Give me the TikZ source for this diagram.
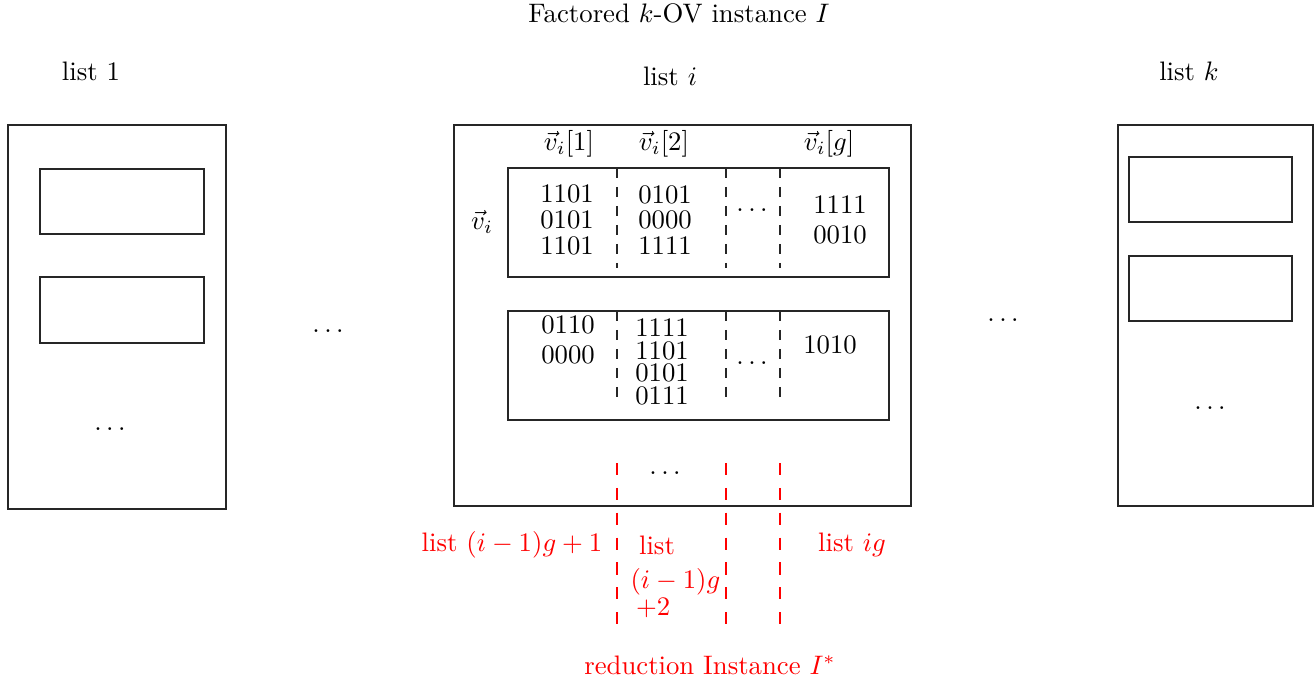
\documentclass[tikz,border=0pt]{standalone}
\begin{document}
\begin{tikzpicture}[x=0.374pt,y=-0.374pt,
  box/.style={draw=black!85, line width=0.4pt},
  lbl/.style={anchor=base, inner sep=0pt},
  col/.style={align=center, inner sep=0pt},
  sepline/.style={dash pattern=on 3.6pt off 3.5pt, draw=black!85, line width=0.4pt},
  redsep/.style={dash pattern=on 4.5pt off 4.8pt, red, line width=0.4pt},
  redlbl/.style={red, anchor=base, inner sep=0pt}]
\useasboundingbox (0,0) rectangle (1315,681);
% titles
\node[lbl] (title) at (679,22) {Factored $k$-OV instance $I$};
\node[lbl] (l1) at (91,80) {list 1};
\node[lbl] (li) at (670,85) {list $i$};
\node[lbl] (lk) at (1189,80) {list $k$};
% list 1
\draw[box] (8,125) rectangle (226,509);
\draw[box] (40,169) rectangle (204,234);
\draw[box] (40,277) rectangle (204,343);
\node[lbl] (d1) at (110,430) {$\ldots$};
% between dots
\node[lbl] (dl) at (328,332) {$\ldots$};
\node[lbl] (dr) at (1003,321) {$\ldots$};
% list k
\draw[box] (1118,125) rectangle (1313,506);
\draw[box] (1129,157) rectangle (1292,222);
\draw[box] (1129,256) rectangle (1292,321);
\node[lbl] (dk) at (1210,409) {$\ldots$};
% list i
\draw[box] (454,125) rectangle (911,506);
\draw[box] (508,168) rectangle (889,277);
\draw[box] (508,311) rectangle (889,420);
\foreach \x/\n in {617/a,726/b,780/c}{
  \coordinate (t1\n) at (\x,168);
  \coordinate (b1\n) at (\x,268);
  \coordinate (t2\n) at (\x,311);
  \coordinate (b2\n) at (\x,402);
  \coordinate (t3\n) at (\x,463);
  \coordinate (b3\n) at (\x,626);
  \draw[sepline] (t1\n) -- (b1\n);
  \draw[sepline] (t2\n) -- (b2\n);
  \draw[redsep] (t3\n) -- (b3\n);
}
\node[col] (h1) at (569,144) {$\vec{v}_i[1]$};
\node[col] (h2) at (664,144) {$\vec{v}_i[2]$};
\node[col] (hg) at (829,144) {$\vec{v}_i[g]$};
\node[col] (vi) at (482,222) {$\vec{v}_i$};
% box 1 contents
\node[col] (a1) at (567,220) {1101\\[-2.4pt]0101\\[-2.4pt]1101};
\node[col] (a2) at (665,220) {0101\\[-2.4pt]0000\\[-2.4pt]1111};
\node[lbl] (a3) at (752,211) {$\ldots$};
\node[col] (ag) at (840,220) {1111\\[-0.9pt]0010};
% box 2 contents
\node[col] (b1) at (568,340) {0110\\[-0.9pt]0000};
\node[col] (b2) at (662,362) {1111\\[-3.5pt]1101\\[-3.5pt]0101\\[-3.5pt]0111};
\node[lbl] (b3) at (752,364) {$\ldots$};
\node[col] (bg) at (830,345) {1010};
\node[lbl] (dm) at (665,474) {$\ldots$};
% red labels
\node[redlbl] (r1) at (512,551) {list $(i-1)g+1$};
\node[red, inner sep=0pt, align=left, anchor=base west] (r2) at (630,615) {\hspace*{3.2pt}list\\[0.7pt]$(i-1)g$\\[-2.2pt]\hspace*{2.1pt}$+2$};
\node[redlbl] (rg) at (852,551) {list $ig$};
\node[redlbl] (red) at (710,674) {reduction Instance $I^*$};
\end{tikzpicture}
\end{document}
